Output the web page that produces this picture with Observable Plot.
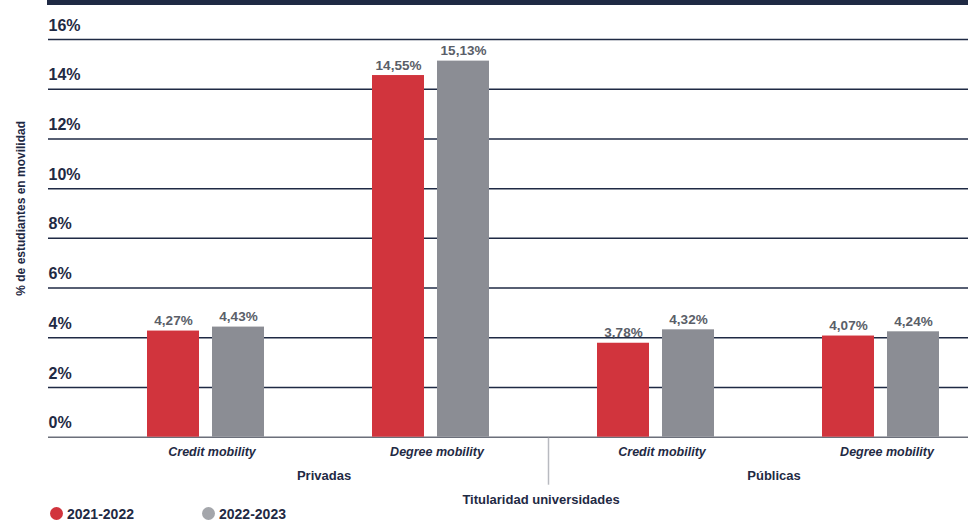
<!DOCTYPE html>
<html>
<head>
<meta charset="utf-8">
<script src="https://cdn.jsdelivr.net/npm/d3@7"></script>
<script src="https://cdn.jsdelivr.net/npm/@observablehq/plot@0.6"></script>
<style>
  body { margin: 0; background: #fff; font-family: "Liberation Sans", Arial, sans-serif; }
  #wrap { width: 968px; position: relative; }
  #topband { height: 5px; margin-left: 47px; background: #1f2a44; }
  #legend { position: relative; height: 13px; }
  .item { position: absolute; top: 0; display: flex; align-items: center; height: 13px;
          font-weight: bold; font-size: 14px; color: #1f2a44; }
  .dot { width: 13px; height: 13px; border-radius: 50%; margin-right: 4px; }
</style>
</head>
<body>
<div id="wrap">
  <div id="topband"></div>
  <div id="chart"></div>
  <div id="legend"></div>
</div>
<script>
// ---- data ----
const groups = ["Privadas", "Privadas", "Públicas", "Públicas"];
const mobility = ["Credit mobility", "Degree mobility", "Credit mobility", "Degree mobility"];
const years = ["2021-2022", "2022-2023"];
const values2122 = [4.27, 14.55, 3.78, 4.07];
const values2223 = [4.43, 15.13, 4.32, 4.24];
const yTicks = [0, 2, 4, 6, 8, 10, 12, 14, 16];
const groupNames = ["Privadas", "Públicas"];
const yLabel = "% de estudiantes en movilidad";
const xLabel = "Titularidad universidades";

const colors = {"2021-2022": "#d1343d", "2022-2023": "#8b8d94"};
const navy = "#1f2a44";
const keys = groups.map((g, i) => g + "|" + mobility[i]);
const rows = [];
keys.forEach((k, i) => {
  rows.push({key: k, year: years[0], value: values2122[i]});
  rows.push({key: k, year: years[1], value: values2223[i]});
});
const fmt = v => v.toFixed(2).replace(".", ",") + "%";
const red = rows.filter(d => d.year === years[0]);
const gray = rows.filter(d => d.year === years[1]);
const firstOfGroup = groupNames.map(g => keys[groups.indexOf(g)]);

const W = 968, H = 502, mTop = 34, mBottom = 70.3, mLeft = 48;

const plot = Plot.plot({
  width: W, height: H,
  marginTop: mTop, marginBottom: mBottom, marginLeft: mLeft, marginRight: 0,
  style: {fontFamily: "'Liberation Sans', Arial, sans-serif", background: "#fff"},
  x: {type: "band", domain: keys, range: [95.5, 995.5], padding: 0, axis: null},
  y: {domain: [0, 16], axis: null},
  marks: [
    Plot.ruleY(yTicks, {y: d => d, stroke: d => d === 0 ? "#6b6f7a" : navy, strokeWidth: 1.5}),
    Plot.text(yTicks, {y: d => d, text: d => d + "%", frameAnchor: "left", textAnchor: "start",
      dy: -14, fill: navy, fontSize: 16, fontWeight: "bold"}),
    Plot.barY(red, {x: "key", y: "value", fill: colors[years[0]], insetLeft: 51, insetRight: 122}),
    Plot.barY(gray, {x: "key", y: "value", fill: colors[years[1]], insetLeft: 116, insetRight: 57}),
    Plot.text(red, {x: "key", y: "value", text: d => fmt(d.value), dx: -35.5, dy: -6, lineAnchor: "bottom",
      fill: "#5a5e68", fontSize: 13.5, fontWeight: "bold"}),
    Plot.text(gray, {x: "key", y: "value", text: d => fmt(d.value), dx: 29.5, dy: -6, lineAnchor: "bottom",
      fill: "#5a5e68", fontSize: 13.5, fontWeight: "bold"}),
    Plot.text(keys, {x: d => d, text: (d, i) => mobility[i], frameAnchor: "bottom", dx: 3, dy: 15,
      lineAnchor: "middle", fill: navy, fontSize: 12.5, fontWeight: "bold", fontStyle: "italic"}),
    Plot.text(firstOfGroup, {x: d => d, text: (d, i) => groupNames[i], frameAnchor: "bottom", dx: 115, dy: 38.5,
      lineAnchor: "middle", fill: navy, fontSize: 13, fontWeight: "bold"}),
    Plot.text([xLabel], {x: () => firstOfGroup[1], text: d => d, frameAnchor: "bottom", dx: -118, dy: 62.3,
      lineAnchor: "middle", fill: navy, fontSize: 13, fontWeight: "bold"}),
    Plot.text([yLabel], {text: d => d, frameAnchor: "left", textAnchor: "middle", dx: -27, dy: -30, rotate: -90,
      lineAnchor: "middle", fill: navy, fontSize: 12, fontWeight: "bold"})
  ]
});

// separator between the two ownership groups, positioned from the x scale
const xs = plot.scale("x");
const sepX = xs.apply(firstOfGroup[1]) + 2.5;
const y0 = plot.scale("y").apply(0);
d3.select(plot).append("line")
  .attr("x1", sepX).attr("x2", sepX)
  .attr("y1", y0 + 1).attr("y2", y0 + 48)
  .attr("stroke", "#b8bac0").attr("stroke-width", 1.5);

document.getElementById("chart").appendChild(plot);

// legend
const legend = d3.select("#legend");
const legendLeft = [50, 202];
years.forEach((yr, i) => {
  const it = legend.append("div").attr("class", "item").style("left", legendLeft[i] + "px");
  it.append("div").attr("class", "dot").style("background", i === 0 ? colors[yr] : "#a4a6ab");
  it.append("span").text(yr);
});
</script>
</body>
</html>
